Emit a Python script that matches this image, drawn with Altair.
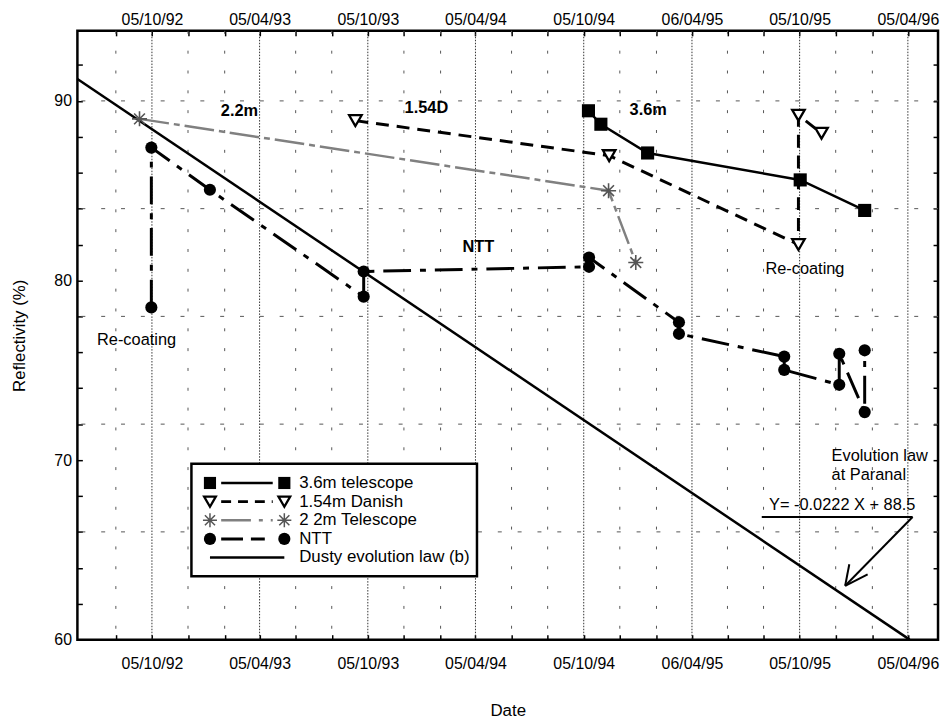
import altair as alt
import pandas as pd

# ---------------- values ----------------
sq_dates = ["1994-10-13", "1994-11-03", "1995-01-21", "1995-10-06", "1996-01-23"]
sq_vals = [89.45, 88.7, 87.1, 85.6, 83.9]

dan_dates = ["1993-09-14", "1994-11-17", "1995-10-03", "1995-10-03", "1995-11-11"]
dan_vals = [88.9, 86.95, 82.0, 89.2, 88.2]

t22_dates = ["1992-09-14", "1994-11-16", "1995-01-01"]
t22_vals = [89.0, 85.0, 81.0]

ntt_dates = ["1992-10-04", "1992-10-04", "1993-01-11", "1993-09-28", "1993-09-28",
             "1994-10-14", "1994-10-14", "1995-03-15", "1995-03-15", "1995-09-09",
             "1995-09-09", "1995-12-11", "1995-12-11", "1996-01-23", "1996-01-23"]
ntt_vals = [78.5, 87.4, 85.05, 79.1, 80.5, 80.76, 81.28, 77.67, 77.03, 75.76,
            75.02, 74.19, 75.92, 72.67, 76.11]

law_dates = ["1992-06-01", "1996-04-08"]
law_vals = [91.22, 60.0]

major_ticks = ["1992-10-05", "1993-04-05", "1993-10-05", "1994-04-05",
               "1994-10-05", "1995-04-06", "1995-10-05", "1996-04-05"]
minor_ticks = ["1992-08-05", "1992-12-05", "1993-02-05", "1993-06-05", "1993-08-05",
               "1993-12-05", "1994-02-05", "1994-06-05", "1994-08-05", "1994-12-05",
               "1995-02-05", "1995-06-05", "1995-08-05", "1995-12-05", "1996-02-05"]
y_ticks = list(range(60, 94, 2))
h_grid = [66, 72, 78, 84, 90]

bold_labels = ["2.2m", "1.54D", "3.6m", "NTT"]
bold_dates = ["1993-03-02", "1994-01-12", "1995-01-22", "1994-04-10"]
bold_vals = [89.41, 89.6, 89.51, 81.85]

note_labels = ["Re-coating", "Re-coating", "Y= -0.0222 X + 88.5"]
note_dates = ["1992-09-09", "1995-10-14", "1995-12-16"]
note_vals = [76.71, 80.62, 67.48]

paranal_labels = ["Evolution law", "at Paranal"]
paranal_dates = ["1995-11-28", "1995-11-28"]
paranal_vals = [70.24, 69.17]

arrow_x = ["1995-08-02", "1996-04-13", "1995-12-21", "1995-12-21"]
arrow_y = [66.83, 66.83, 63.0, 63.0]
arrow_x2 = ["1996-04-13", "1995-12-21", "1995-12-28", "1996-01-28"]
arrow_y2 = [66.83, 63.0, 64.2, 63.64]

legend_labels = ["3.6m telescope", "1.54m Danish", "2 2m Telescope", "NTT",
                 "Dusty evolution law (b)"]

# ---------------- helpers ----------------
FONT = "Liberation Sans"
ASTER = "M-1,0L1,0M0,-1L0,1M-0.72,-0.72L0.72,0.72M-0.72,0.72L0.72,-0.72"


def dt(s):
    y, m, d = map(int, s.split("-"))
    return alt.DateTime(year=y, month=m, date=d, utc=True)


XS = alt.Scale(type="utc", domain=[dt("1992-06-01"), dt("1996-05-26")], nice=False)
YS = alt.Scale(domain=[60, 93.9], nice=False, zero=False)


def frame(dates, vals):
    return pd.DataFrame({"date": dates, "val": vals, "i": list(range(len(dates)))})


def X(axis=None):
    return alt.X("date:T", scale=XS, axis=axis, title=None)


def Y(axis=None):
    return alt.Y("val:Q", scale=YS, axis=axis, title=None)


x_label_expr = ("(utcmonth(datum.value) == 3 || utcmonth(datum.value) == 9) ? "
                "utcFormat(datum.value, '%d/%m/%y') : ''")
y_label_expr = "datum.value % 10 == 0 ? datum.label : ''"
all_x_ticks = [dt(s) for s in sorted(major_ticks + minor_ticks)]

common_axis = dict(domain=False, grid=False, tickColor="black", tickWidth=1.5,
                   tickSize=5, offset=-5, labelColor="black", labelFont=FONT,
                   labelFontSize=16, labelOverlap=False, titleFont=FONT,
                   titleFontSize=17, titleFontWeight="normal", titleColor="black")

ax_bottom = alt.Axis(orient="bottom", values=all_x_ticks, labelExpr=x_label_expr,
                     labelPadding=16, labelFlush=False, title="Date",
                     titlePadding=32, **common_axis)
ax_top = alt.Axis(orient="top", values=all_x_ticks, labelExpr=x_label_expr,
                  labelPadding=3, labelFlush=False, title=None, **common_axis)
ax_left = alt.Axis(orient="left", values=y_ticks, labelExpr=y_label_expr,
                   labelPadding=6, title="Reflectivity  (%)", titlePadding=26,
                   **common_axis)
ax_right = alt.Axis(orient="right", values=y_ticks, labels=False, title=None,
                    **common_axis)

layers = []

# ---- grid ----
layers.append(alt.Chart(pd.DataFrame({"date": major_ticks})).mark_rule(
    color="#333", strokeWidth=1, strokeDash=[1.5, 1.5]).encode(x=X(ax_top)))
layers.append(alt.Chart(pd.DataFrame({"date": minor_ticks})).mark_rule(
    color="#555", strokeWidth=1, strokeDash=[3, 17]).encode(x=X()))
layers.append(alt.Chart(pd.DataFrame({"val": h_grid})).mark_rule(
    color="#555", strokeWidth=1, strokeDash=[4, 16]).encode(y=Y(ax_right)))

# ---- evolution law ----
layers.append(alt.Chart(frame(law_dates, law_vals)).mark_line(
    color="black", strokeWidth=2.5).encode(x=X(ax_bottom), y=Y(ax_left)))

# ---- series lines ----
layers.append(alt.Chart(frame(t22_dates, t22_vals)).mark_line(
    color="#808080", strokeWidth=2.5, strokeDash=[30, 5, 6, 5]).encode(
    x=X(), y=Y(), order="i:Q"))
layers.append(alt.Chart(frame(dan_dates, dan_vals)).mark_line(
    color="black", strokeWidth=3, strokeDash=[13, 8]).encode(
    x=X(), y=Y(), order="i:Q"))
layers.append(alt.Chart(frame(sq_dates, sq_vals)).mark_line(
    color="black", strokeWidth=2.5).encode(x=X(), y=Y(), order="i:Q"))
layers.append(alt.Chart(frame(ntt_dates, ntt_vals)).mark_line(
    color="black", strokeWidth=3, strokeDash=[28, 9, 6, 9]).encode(
    x=X(), y=Y(), order="i:Q"))

# ---- series markers ----
layers.append(alt.Chart(frame(t22_dates, t22_vals)).mark_point(
    shape=ASTER, size=230, filled=False, color="#555", strokeWidth=1.6,
    opacity=1).encode(x=X(), y=Y()))
layers.append(alt.Chart(frame(dan_dates, dan_vals)).mark_point(
    shape="triangle-down", size=160, filled=False, color="black", fill="white",
    fillOpacity=1, strokeWidth=2.3, opacity=1).encode(x=X(), y=Y()))
layers.append(alt.Chart(frame(sq_dates, sq_vals)).mark_point(
    shape="square", size=175, filled=True, color="black", opacity=1).encode(
    x=X(), y=Y()))
layers.append(alt.Chart(frame(ntt_dates, ntt_vals)).mark_point(
    shape="circle", size=150, filled=True, color="black", opacity=1).encode(
    x=X(), y=Y()))

# ---- annotations ----
layers.append(alt.Chart(pd.DataFrame({"date": bold_dates, "val": bold_vals,
                                      "t": bold_labels})).mark_text(
    font=FONT, fontSize=16.5, fontWeight="bold", color="black", align="center",
    baseline="middle").encode(x=X(), y=Y(), text="t:N"))
layers.append(alt.Chart(pd.DataFrame({"date": note_dates, "val": note_vals,
                                      "t": note_labels})).mark_text(
    font=FONT, fontSize=16.5, color="black", align="center",
    baseline="middle").encode(x=X(), y=Y(), text="t:N"))
layers.append(alt.Chart(pd.DataFrame({"date": paranal_dates, "val": paranal_vals,
                                      "t": paranal_labels})).mark_text(
    font=FONT, fontSize=16.5, color="black", align="left",
    baseline="middle").encode(x=X(), y=Y(), text="t:N"))
layers.append(alt.Chart(pd.DataFrame({"date": arrow_x, "val": arrow_y,
                                      "date2": arrow_x2, "val2": arrow_y2})).mark_rule(
    color="black", strokeWidth=2).encode(
    x=X(), y=Y(), x2="date2:T", y2="val2:Q"))

# ---- legend (layout in pixels) ----
dummy = pd.DataFrame({"a": [0]})
LX0, LX1, LY0, LY1 = 115, 403, 436.7, 550
ROW0, DROW = 456, 18.8
MK_L, MK_R, LN_L, LN_R, TX = 133.7, 208.7, 145, 197, 223.7

layers.append(alt.Chart(dummy).mark_rect(
    fill="white", stroke="black", strokeWidth=2.5).encode(
    x=alt.value(LX0), x2=alt.value(LX1), y=alt.value(LY0), y2=alt.value(LY1)))

styles = [
    dict(line=dict(color="black", strokeWidth=2.5),
         pt=dict(shape="square", size=150, filled=True, color="black")),
    dict(line=dict(color="black", strokeWidth=3, strokeDash=[10, 7]),
         pt=dict(shape="triangle-down", size=140, filled=False, color="black",
                 strokeWidth=2.3)),
    dict(line=dict(color="#808080", strokeWidth=2.5, strokeDash=[30, 8, 4, 8]),
         pt=dict(shape=ASTER, size=200, filled=False, color="#555", strokeWidth=1.5)),
    dict(line=dict(color="black", strokeWidth=3, strokeDash=[22, 8, 14, 8]),
         pt=dict(shape="circle", size=150, filled=True, color="black")),
]
for k, lab in enumerate(legend_labels):
    ry = ROW0 + k * DROW
    if k < 4:
        st = styles[k]
        layers.append(alt.Chart(dummy).mark_rule(**st["line"]).encode(
            x=alt.value(LN_L), x2=alt.value(LN_R), y=alt.value(ry)))
        for mx in (MK_L, MK_R):
            layers.append(alt.Chart(dummy).mark_point(opacity=1, **st["pt"]).encode(
                x=alt.value(mx), y=alt.value(ry)))
    else:
        layers.append(alt.Chart(dummy).mark_rule(color="black", strokeWidth=2.5).encode(
            x=alt.value(MK_L), x2=alt.value(MK_R), y=alt.value(ry)))
    layers.append(alt.Chart(dummy).mark_text(
        text=lab, font=FONT, fontSize=17, color="black", align="left",
        baseline="middle").encode(x=alt.value(TX), y=alt.value(ry)))

chart = alt.layer(*layers).resolve_axis(x="independent", y="independent").properties(
    width=868, height=614,
    padding={"left": 70, "top": 20, "right": 3, "bottom": 78},
    autosize=alt.AutoSizeParams(type="none"),
    background="white",
).configure(font=FONT).configure_view(stroke="black", strokeWidth=2.5)

chart.save("out.html", embed_options={"renderer": "svg", "actions": False})
